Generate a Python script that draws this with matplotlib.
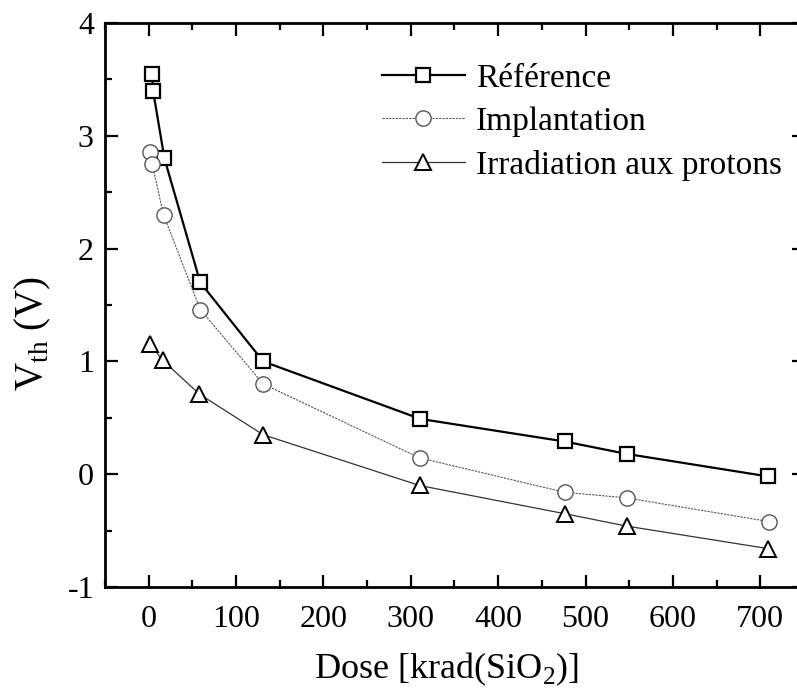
import matplotlib
matplotlib.use("Agg")
import matplotlib.pyplot as plt
from matplotlib.ticker import MultipleLocator

plt.rcParams['font.family'] = ['Liberation Serif', 'DejaVu Serif']
plt.rcParams['mathtext.fontset'] = 'custom'
plt.rcParams['mathtext.rm'] = 'Liberation Serif'
plt.rcParams['axes.unicode_minus'] = False

ref_dose = [4, 5, 18, 59, 131, 311, 476, 547, 709]
ref_vth = [3.55, 3.40, 2.80, 1.70, 1.00, 0.49, 0.29, 0.18, -0.02]

imp_dose = [2, 4, 17, 59, 131, 310, 476, 547, 710]
imp_vth = [2.86, 2.75, 2.30, 1.46, 0.80, 0.145, -0.16, -0.21, -0.42]

pro_dose = [2, 16, 58, 131, 310, 476, 547, 709]
pro_vth = [1.15, 1.01, 0.71, 0.35, -0.10, -0.35, -0.46, -0.66]

labels = ['Référence', 'Implantation', 'Irradiation aux protons']

W, H = 797, 693
fig = plt.figure(figsize=(W/100, H/100), dpi=100)
ax = fig.add_axes([105/W, (H-587)/H, (804-105)/W, (587-23)/H])

ax.plot(ref_dose, ref_vth, color='black', lw=1.6, marker='s', ms=10,
        mfc='white', mec='black', mew=1.6, label=labels[0])
ax.plot(imp_dose, imp_vth, color='#555555', lw=0.8, ls=(0, (2, 1)), marker='o', ms=11,
        mfc='white', mec='#555555', mew=1.0, label=labels[1])
ax.plot(pro_dose, pro_vth, color='#333333', lw=0.9, marker='^', ms=12,
        mfc='white', mec='black', mew=1.4, label=labels[2])

ax.set_xlim(-50, 750)
ax.set_ylim(-1, 4)
ax.xaxis.set_major_locator(MultipleLocator(100))
ax.xaxis.set_minor_locator(MultipleLocator(50))
ax.yaxis.set_major_locator(MultipleLocator(1))
ax.yaxis.set_minor_locator(MultipleLocator(0.5))
ax.tick_params(which='both', direction='in', top=True, right=True, width=1.6,
               labelsize=23)
ax.tick_params(which='major', length=9)
ax.tick_params(which='minor', length=5)
ax.tick_params(axis='x', which='major', pad=13)
ax.tick_params(axis='y', which='major', pad=8)
for s in ax.spines.values():
    s.set_linewidth(2)

ax.set_xlabel('Dose [krad(SiO$_2$)]', fontsize=26)
ax.xaxis.set_label_coords(0.489, -0.112)
ax.set_ylabel('V$_{\\rm th}$ (V)', fontsize=28)
ax.yaxis.set_label_coords(-0.075, 0.449)

ax.legend(loc='upper left', bbox_to_anchor=(0.396, 0.929), frameon=False,
          fontsize=24, handlelength=2.5, handletextpad=0.33, labelspacing=0.39,
          borderaxespad=0, borderpad=0)

fig.savefig('out.png', dpi=100)
